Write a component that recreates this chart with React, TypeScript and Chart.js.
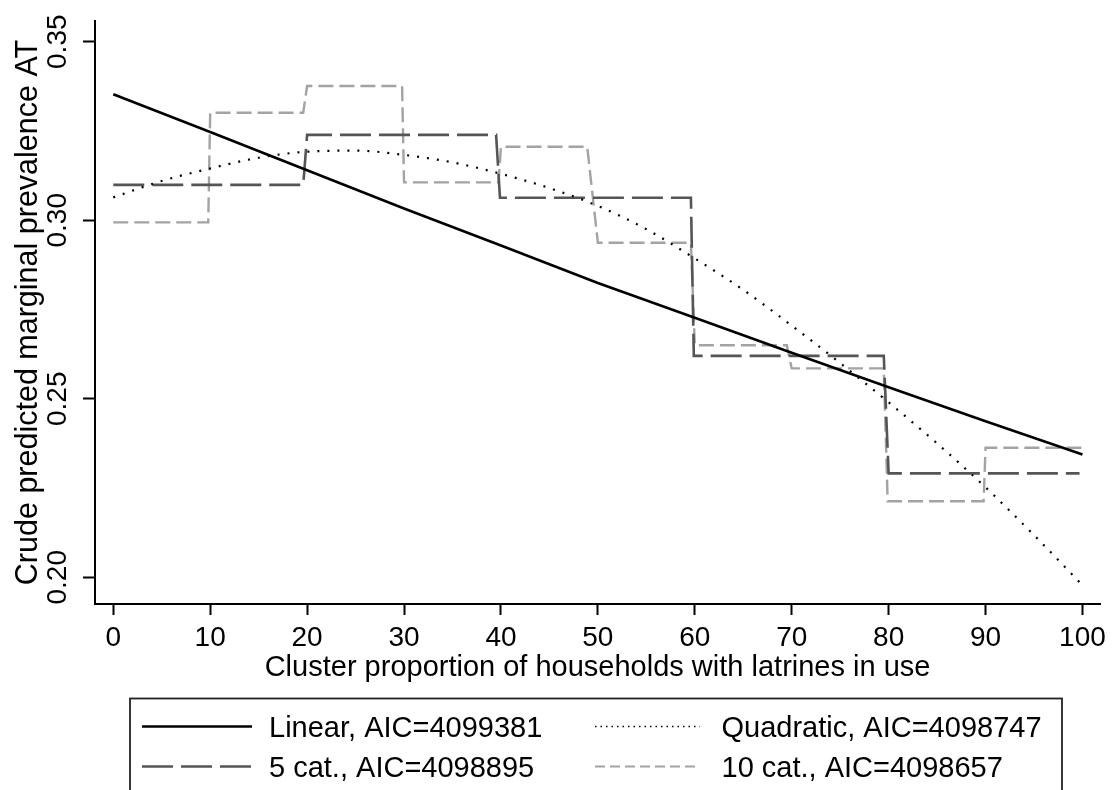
import React, { useEffect, useRef } from 'react';
import { Chart, registerables } from 'chart.js';

Chart.register(...registerables);

// ---------- data ----------
const xTicks = [0, 10, 20, 30, 40, 50, 60, 70, 80, 90, 100];
const yTicks = [0.2, 0.25, 0.3, 0.35];

const linearX = [0, 10, 20, 30, 40, 50, 60, 70, 80, 90, 100];
const linearY = [0.3353, 0.3247, 0.314, 0.3033, 0.2929, 0.2824, 0.2727, 0.2629, 0.2532, 0.2437, 0.2344];

const quadX = [0, 5, 10, 15, 20, 25, 30, 35, 40, 45, 50, 55, 60, 65, 70, 75, 80, 85, 90, 95, 100];
const quadY = [0.3064, 0.311, 0.3145, 0.3175, 0.3192, 0.3195, 0.3183, 0.3162, 0.313, 0.309, 0.304, 0.2975, 0.2893, 0.2805, 0.2705, 0.26, 0.249, 0.2375, 0.2252, 0.2118, 0.1978];

const cat5X = [0, 19.6, 20, 39.5, 39.9, 59.6, 59.9, 79.5, 80, 99.7];
const cat5Y = [0.3099, 0.3099, 0.3239, 0.3239, 0.3063, 0.3063, 0.262, 0.262, 0.2291, 0.2291];

const cat10X = [0, 9.8, 10, 19.6, 20, 29.8, 30, 39.75, 40, 48.9, 50, 59.6, 60, 69.5, 70, 79.5, 79.9, 89.8, 90, 100];
const cat10Y = [0.2994, 0.2994, 0.3301, 0.3301, 0.3376, 0.3376, 0.3106, 0.3106, 0.3206, 0.3206, 0.2937, 0.2937, 0.265, 0.265, 0.2585, 0.2585, 0.2213, 0.2213, 0.2363, 0.2363];

const seriesLabels = [
  'Linear, AIC=4099381',
  'Quadratic, AIC=4098747',
  '5 cat., AIC=4098895',
  '10 cat., AIC=4098657',
];

const xTitle = 'Cluster proportion of households with latrines in use';
const yTitle = 'Crude predicted marginal prevalence AT';

const FONT = '"Liberation Sans", Arial, sans-serif';

const toPoints = (xs: number[], ys: number[]) => xs.map((x, i) => ({ x, y: ys[i] }));

// legend drawn inside the canvas (2 columns, bordered box)
const legendPlugin = {
  id: 'stataLegend',
  afterDraw(chart: any) {
    const ctx = chart.ctx as CanvasRenderingContext2D;
    const box = { left: 130, top: 698.5, right: 1062, bottom: 820 };
    const cols = [
      { x0: 142, x1: 252, tx: 269 },
      { x0: 595, x1: 700, tx: 721.5 },
    ];
    const rows = [{ ly: 726.5, ty: 737 }, { ly: 766.5, ty: 777 }];
    const legendDash = [[], [1.5, 4], [31, 8], [10, 5]];
    const legendWidth = [2.6, 1.6, 2.4, 2.2];
    ctx.save();
    ctx.strokeStyle = '#222';
    ctx.lineWidth = 1.8;
    ctx.strokeRect(box.left, box.top, box.right - box.left, box.bottom - box.top);
    ctx.font = '29px ' + FONT;
    ctx.fillStyle = '#000';
    ctx.textBaseline = 'alphabetic';
    ctx.textAlign = 'left';
    chart.data.datasets.forEach((ds: any, i: number) => {
      const c = cols[i % 2];
      const r = rows[Math.floor(i / 2)];
      ctx.beginPath();
      ctx.setLineDash(legendDash[i]);
      ctx.strokeStyle = ds.borderColor;
      ctx.lineWidth = legendWidth[i];
      ctx.moveTo(c.x0, r.ly);
      ctx.lineTo(c.x1, r.ly);
      ctx.stroke();
      ctx.setLineDash([]);
      ctx.fillText(ds.label, c.tx, r.ty);
    });
    ctx.restore();
  },
};

export default function App() {
  const ref = useRef<HTMLCanvasElement | null>(null);

  useEffect(() => {
    if (!ref.current) return;
    const chart = new Chart(ref.current, {
      type: 'scatter',
      data: {
        datasets: [
          {
            label: seriesLabels[0],
            data: toPoints(linearX, linearY),
            showLine: true,
            borderColor: '#000000',
            borderWidth: 2.6,
            pointRadius: 0,
            tension: 0,
            order: 1,
          },
          {
            label: seriesLabels[1],
            data: toPoints(quadX, quadY),
            showLine: true,
            borderColor: '#000000',
            borderWidth: 2.2,
            borderDash: [2, 8],
            pointRadius: 0,
            cubicInterpolationMode: 'monotone',
            order: 2,
          },
          {
            label: seriesLabels[2],
            data: toPoints(cat5X, cat5Y),
            showLine: true,
            borderColor: '#555555',
            borderWidth: 2.6,
            borderDash: [31, 8],
            pointRadius: 0,
            tension: 0,
            order: 3,
          },
          {
            label: seriesLabels[3],
            data: toPoints(cat10X, cat10Y),
            showLine: true,
            borderColor: '#a3a3a3',
            borderWidth: 2.4,
            borderDash: [15, 6],
            pointRadius: 0,
            tension: 0,
            order: 4,
          },
        ],
      },
      options: {
        responsive: false,
        animation: false,
        devicePixelRatio: 1,
        layout: { padding: { top: 21, right: 10, left: 0, bottom: 0 } },
        plugins: {
          legend: { display: false },
          tooltip: { enabled: false },
          title: { display: false },
        },
        scales: {
          x: {
            type: 'linear',
            min: -1.885,
            max: 101.82,
            afterBuildTicks: (s: any) => {
              s.ticks = xTicks.map((v) => ({ value: v }));
            },
            afterFit: (s: any) => {
              s.height = 186;
            },
            grid: {
              display: true,
              drawOnChartArea: false,
              drawTicks: true,
              tickLength: 11,
              tickWidth: 2,
              tickColor: '#000',
            },
            border: { display: true, color: '#000', width: 2 },
            ticks: {
              autoSkip: false,
              maxRotation: 0,
              minRotation: 0,
              padding: 6,
              color: '#000',
              font: { family: FONT, size: 28 },
              callback: (v: any) => String(v),
            },
            title: {
              display: true,
              text: xTitle,
              color: '#000',
              font: { family: FONT, size: 29 },
              padding: { top: 0, bottom: 105 },
            },
          },
          y: {
            type: 'linear',
            min: 0.19252,
            max: 0.3558,
            afterBuildTicks: (s: any) => {
              s.ticks = yTicks.map((v) => ({ value: v }));
            },
            afterFit: (s: any) => {
              s.width = 95;
            },
            grid: {
              display: true,
              drawOnChartArea: false,
              drawTicks: true,
              tickLength: 12,
              tickWidth: 2,
              tickColor: '#000',
            },
            border: { display: true, color: '#000', width: 2 },
            ticks: {
              autoSkip: false,
              minRotation: 90,
              maxRotation: 90,
              crossAlign: 'center',
              padding: -3,
              color: '#000',
              font: { family: FONT, size: 28 },
              callback: (v: any) => Number(v).toFixed(2),
            },
            title: {
              display: true,
              text: yTitle,
              color: '#000',
              font: { family: FONT, size: 30.5 },
              padding: { top: 10, bottom: 0 },
            },
          },
        },
      },
      plugins: [legendPlugin],
    } as any);
    return () => chart.destroy();
  }, []);

  return (
    <div style={{ position: 'fixed', left: 0, top: 0, width: 1112, height: 790, background: '#fff' }}>
      <canvas ref={ref} width={1112} height={790} style={{ display: 'block', width: 1112, height: 790 }} />
    </div>
  );
}
